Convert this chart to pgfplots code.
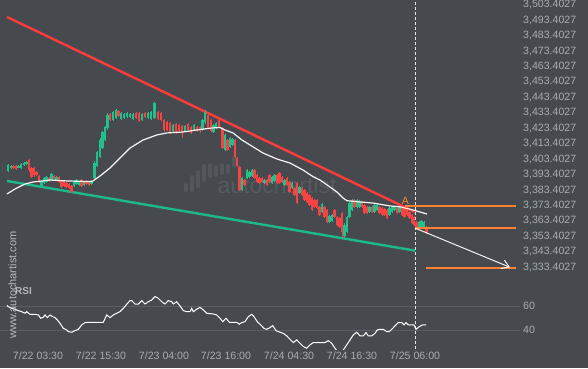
\documentclass[border=0pt]{standalone}
\usepackage{pgfplots}
\pgfplotsset{compat=1.18}
\usepackage{pgfplotstable}
\usepackage{fontspec}
\setmainfont{Liberation Sans}
\usetikzlibrary{arrows.meta}
\definecolor{bg}{HTML}{464A4F}
\definecolor{tickc}{HTML}{A8ACB1}
\definecolor{cup}{HTML}{22C08C}
\definecolor{cdn}{HTML}{F64343}
\definecolor{tred}{HTML}{FF3B3B}
\definecolor{tgreen}{HTML}{1DB98C}
\definecolor{orng}{HTML}{FF8232}
\definecolor{gridc}{HTML}{5A5E64}

\pgfplotstableread{
x o h l c
8 3395.7 3400.3 3395.1 3399.6
11 3397.7 3399.6 3397.0 3399.0
18.5 3398.3 3399.6 3397.7 3399.0
21 3397.7 3400.9 3397.0 3400.3
24 3399.6 3401.6 3399.0 3400.9
26.5 3400.3 3402.2 3399.6 3401.6
41.5 3386.0 3389.9 3385.4 3389.3
44 3388.0 3391.9 3387.3 3391.2
46.5 3388.6 3392.5 3388.0 3391.9
51.5 3389.9 3394.4 3389.3 3393.8
56.5 3389.9 3392.5 3389.3 3391.9
74 3386.0 3389.9 3385.4 3389.3
76.5 3387.3 3390.6 3386.7 3389.9
79 3386.7 3389.3 3386.0 3388.6
84 3386.7 3389.3 3386.0 3388.6
91.5 3387.3 3389.9 3386.7 3389.3
94.5 3391.2 3402.2 3390.6 3400.9
97 3399.0 3408.7 3398.3 3408.1
100 3404.8 3417.1 3404.2 3415.8
102.5 3410.6 3421.6 3410.0 3421.0
105 3415.8 3424.9 3415.2 3424.2
107.5 3423.6 3433.3 3422.3 3432.0
113 3428.8 3434.6 3428.1 3433.9
116 3430.1 3435.9 3429.4 3435.2
121 3429.4 3433.9 3428.8 3433.3
124 3430.1 3433.3 3429.4 3432.6
127 3430.7 3433.9 3430.1 3433.3
130 3430.7 3433.3 3430.1 3432.6
133 3429.4 3433.3 3428.8 3432.6
142 3428.8 3433.3 3428.1 3432.6
148 3430.1 3433.9 3429.4 3433.3
151 3429.4 3434.6 3428.8 3433.9
154.5 3430.1 3440.4 3429.4 3439.8
173 3421.6 3426.2 3421.0 3425.5
185 3421.6 3425.5 3421.0 3424.9
194 3422.3 3426.2 3421.6 3425.5
202.5 3422.3 3429.4 3421.6 3428.8
205 3427.5 3435.2 3426.2 3433.9
213.5 3421.0 3426.2 3420.4 3425.5
216 3423.6 3427.5 3422.9 3426.8
225 3409.3 3419.7 3408.7 3419.1
230 3411.3 3417.8 3410.6 3417.1
232.5 3412.6 3417.1 3411.9 3416.5
242 3383.4 3391.9 3382.8 3391.2
247 3391.2 3397.0 3390.6 3396.4
249.5 3391.9 3395.7 3391.2 3395.1
252 3392.5 3397.0 3391.9 3396.4
264.5 3388.0 3390.6 3387.3 3389.9
272 3388.0 3392.5 3387.3 3391.9
274.5 3389.3 3393.8 3388.6 3393.2
284.5 3386.7 3390.6 3386.0 3389.9
292 3384.7 3388.6 3384.1 3388.0
299.5 3381.5 3386.0 3380.9 3385.4
322 3369.2 3375.0 3368.5 3374.4
329.5 3362.7 3367.3 3362.1 3366.6
332 3363.4 3367.9 3362.7 3367.3
344.5 3353.7 3362.1 3352.4 3360.8
347 3356.3 3366.6 3355.6 3366.0
349.5 3366.0 3375.7 3365.3 3375.0
352 3370.5 3377.6 3369.8 3377.0
357 3372.4 3377.6 3371.8 3377.0
359.5 3372.4 3377.0 3371.8 3376.3
369.5 3369.2 3373.1 3368.5 3372.4
374.5 3369.2 3374.4 3368.5 3373.7
377 3370.5 3374.4 3369.8 3373.7
389.5 3367.3 3372.4 3366.6 3371.8
392 3369.2 3373.1 3368.5 3372.4
394.5 3370.5 3373.1 3369.8 3372.4
399.5 3369.2 3373.1 3368.5 3372.4
419 3359.5 3363.4 3358.8 3362.7
421.5 3359.5 3364.0 3358.8 3363.4
424 3358.8 3363.4 3358.2 3362.7
}\upcandles

\pgfplotstableread{
x o h l c
13.5 3399.0 3399.6 3397.0 3397.7
16 3399.0 3399.6 3396.4 3397.0
29 3402.9 3403.5 3395.1 3396.4
31.5 3397.7 3398.3 3391.2 3391.9
34 3397.7 3398.3 3391.9 3393.2
36.5 3395.1 3395.7 3392.5 3393.2
39 3392.5 3393.2 3388.0 3388.6
49 3391.2 3391.9 3388.6 3389.3
54 3392.5 3393.2 3389.9 3390.6
59 3391.9 3392.5 3388.0 3388.6
61.5 3389.3 3389.9 3384.7 3385.4
64 3389.3 3389.9 3385.4 3386.0
66.5 3388.0 3388.6 3384.7 3385.4
69 3387.3 3388.0 3384.1 3384.7
71.5 3386.0 3386.7 3381.5 3382.1
81.5 3389.9 3390.6 3385.4 3386.0
86.5 3389.3 3389.9 3386.7 3387.3
89 3388.6 3389.3 3386.0 3386.7
110 3432.6 3433.3 3428.1 3428.8
118.5 3434.6 3435.2 3430.7 3431.4
136 3433.3 3433.9 3429.4 3430.1
139 3433.3 3433.9 3427.5 3428.1
145 3433.3 3433.9 3430.1 3430.7
158 3433.9 3434.6 3428.8 3429.4
161 3433.3 3433.9 3428.1 3428.8
164 3428.8 3429.4 3421.0 3422.3
167 3427.5 3428.1 3421.6 3422.3
170 3426.8 3427.5 3419.7 3420.4
176 3426.2 3426.8 3419.7 3420.4
179 3425.5 3426.2 3421.0 3421.6
182 3424.9 3425.5 3417.1 3421.0
188 3426.2 3426.8 3421.6 3422.3
191 3424.2 3424.9 3419.7 3420.4
197 3424.2 3424.9 3421.0 3421.6
200 3424.2 3424.9 3420.4 3421.6
208 3432.0 3432.6 3422.9 3423.6
211 3428.8 3429.4 3421.0 3421.6
219 3428.8 3429.4 3423.6 3424.2
222.5 3423.6 3424.2 3410.0 3410.6
227.5 3415.8 3416.5 3408.7 3409.3
235 3415.8 3416.5 3404.2 3404.8
237 3404.2 3404.8 3398.3 3399.0
239.5 3398.3 3399.0 3382.8 3383.4
244.5 3389.9 3390.6 3386.0 3386.7
254.5 3396.4 3397.0 3390.6 3391.2
257 3393.2 3393.8 3388.0 3388.6
259.5 3391.2 3391.9 3387.3 3388.0
262 3391.2 3391.9 3388.0 3388.6
267 3389.9 3390.6 3386.0 3386.7
269.5 3393.2 3393.8 3388.0 3388.6
277 3393.2 3393.8 3387.3 3388.0
279.5 3394.4 3395.1 3387.3 3388.0
282 3391.9 3392.5 3388.0 3388.6
287 3391.2 3391.9 3386.0 3386.7
289.5 3388.6 3389.3 3381.5 3382.1
294.5 3384.7 3385.4 3379.6 3380.2
297 3388.0 3388.6 3374.4 3375.0
302 3384.7 3385.4 3379.6 3380.2
304.5 3383.4 3384.1 3376.3 3377.0
307 3381.5 3382.1 3375.0 3375.7
309.5 3380.2 3380.9 3373.1 3373.7
312 3378.3 3378.9 3369.8 3370.5
314.5 3377.0 3377.6 3371.8 3372.4
317 3377.0 3377.6 3371.1 3371.8
319.5 3372.4 3373.1 3366.6 3367.3
324.5 3372.4 3373.1 3365.3 3366.0
327 3370.5 3371.1 3362.1 3362.7
334.5 3370.5 3371.1 3365.3 3366.0
337 3366.0 3366.6 3360.1 3360.8
339.5 3365.3 3366.0 3358.8 3359.5
342 3368.5 3369.2 3352.4 3356.3
354.5 3377.0 3377.6 3371.8 3372.4
362 3375.7 3376.3 3371.8 3372.4
364.5 3373.7 3374.4 3367.9 3368.5
367 3372.4 3373.1 3367.9 3368.5
372 3372.4 3373.1 3368.5 3369.2
379.5 3372.4 3373.1 3367.9 3368.5
382 3371.8 3372.4 3366.6 3367.3
384.5 3371.1 3371.8 3366.6 3367.3
387 3370.5 3371.1 3364.7 3365.3
397 3371.8 3372.4 3367.9 3368.5
402 3371.8 3372.4 3366.6 3367.3
404.5 3372.4 3373.1 3365.3 3366.0
407 3371.8 3372.4 3366.6 3367.3
409.5 3369.2 3369.8 3364.7 3365.3
412 3367.3 3367.9 3361.4 3362.1
414 3366.0 3366.6 3360.1 3360.8
416.5 3362.7 3363.4 3357.5 3358.2
426.5 3359.5 3360.1 3355.0 3355.6
}\downcandles

\pgfplotstableread{
x ma
7 3380.9
15 3384.1
25 3387.3
33 3388.6
50 3389.9
67 3389.3
92 3388.9
100 3392.5
110 3397.7
120 3404.2
130 3410.6
143 3415.8
157 3419.1
167 3420.4
183 3421.0
200 3422.6
212 3423.6
220 3423.9
225 3422.3
233 3420.4
242 3415.8
250 3412.6
263 3407.4
277 3403.5
290 3400.9
303 3396.4
313 3392.1
320 3389.9
330 3385.4
337 3382.1
343 3378.3
347 3376.5
357 3375.9
373 3375.0
390 3373.1
400 3372.6
413 3370.5
427 3367.9
}\matable

\pgfplotstableread{
x rsi
7 60.5
8.3 59.4
11.7 58.1
15 57.3
18.3 56.2
21.7 55.3
25 54.0
26.7 55.3
30 53.1
35 53.1
38.3 52.6
40.7 49.9
43.3 50.7
45 52.6
47.3 50.4
50 52.6
52.7 51.2
55 50.4
57.3 48.5
60 45.8
63.3 41.6
66.7 40.3
68.3 38.9
71.7 38.4
75 39.7
78.3 40.8
81.7 44.4
85 46.3
88.3 46.6
100 46.6
103.3 46.6
106.7 52.6
110 50.4
113.3 52.6
116.7 54.0
120 55.3
123.3 58.1
126.7 61.4
130 64.4
131.7 64.4
135 61.6
138.3 61.6
141.7 64.4
145 61.6
148.3 63.5
151.7 64.9
155 67.7
158.3 66.3
161.7 63.5
165 61.6
168.3 64.4
171.7 63.5
173.3 61.6
176.7 63.5
180 60.0
183.3 56.2
186.7 55.3
190 55.3
191.7 58.1
193.3 55.3
196.7 57.3
200 58.9
203.3 56.7
206.7 54.0
213.3 53.4
216.7 52.6
220 49.9
222.7 47.1
226 49.9
229.3 46.6
236.7 46.6
239.3 45.0
241.7 46.3
245 47.1
248.3 51.2
251.7 53.1
254 51.2
257.3 47.1
260.7 44.4
264 41.6
266.7 40.8
270 42.2
272.7 43.9
276 39.7
280 38.4
283.3 37.5
286.7 35.4
290 32.6
293.3 29.9
296.7 32.1
300 29.3
303.3 26.6
306.7 25.2
310 28.0
313.3 29.9
320 29.9
325 29.9
328.3 31.5
331.7 29.3
335 25.2
338 22.0
341 21.5
343.3 23.8
346.7 28.0
350 32.1
353.3 36.2
356.7 38.4
360 35.4
363.3 35.4
366 38.1
368.3 35.4
371.7 35.4
375 37.5
377.3 40.3
380 40.8
383.3 40.8
386.7 38.9
389.3 38.9
391.7 40.8
395 43.6
398.3 46.3
401.7 46.3
404 44.4
406 46.3
408.3 44.4
414 44.4
416 40.8
419.3 43.0
422.7 44.4
426 44.4
}\rsitable

\pgfplotsset{
  candlewick/.style={draw=none, forget plot, error bars/.cd, y dir=both, y explicit, error mark=none,
     error bar style={draw=#1, line width=0.9pt, solid}},
  candlebody/.style={draw=none, forget plot, error bars/.cd, y dir=both, y explicit, error mark=none,
     error bar style={draw=#1, line width=2.2pt, solid, line cap=butt}},
  labfont/.style={font=\fontsize{10.6}{12}\selectfont, text=tickc},
}

\begin{document}
\begin{tikzpicture}
\fill[bg] (0pt,0pt) rectangle (588pt,368pt);

% price panel
\begin{axis}[
  at={(0pt,88pt)}, anchor=south west, scale only axis,
  width=520pt, height=280pt,
  xmin=0, xmax=520, ymin=3325.18, ymax=3506.45,
  axis line style={draw=none}, tick style={draw=none}, major tick length=0pt,
  xtick=\empty,
  ytick={3333.4027,3343.4027,3353.4027,3363.4027,3373.4027,3383.4027,3393.4027,3403.4027,3413.4027,3423.4027,3433.4027,3443.4027,3453.4027,3463.4027,3473.4027,3483.4027,3493.4027,3503.4027},
  yticklabels={{3,333.4027},{3,343.4027},{3,353.4027},{3,363.4027},{3,373.4027},{3,383.4027},{3,393.4027},{3,403.4027},{3,413.4027},{3,423.4027},{3,433.4027},{3,443.4027},{3,453.4027},{3,463.4027},{3,473.4027},{3,483.4027},{3,493.4027},{3,503.4027}},
  yticklabel pos=right,
  yticklabel style={labfont, anchor=west, inner sep=0pt, xshift=3pt},
]
% watermark
\node[text=white, opacity=0.09, font=\fontsize{23}{26}\selectfont] at (axis cs:277,3386.2) {autochartist};
\addplot[draw=white, opacity=0.07, line width=4pt, line cap=round, unbounded coords=jump] coordinates {
 (186,3386.7) (186,3383.4) (186,nan)
 (192,3391.9) (192,3383.4) (192,nan)
 (198,3395.1) (198,3386.0) (198,nan)
 (204,3399.0) (204,3389.9) (204,nan)
 (210,3399.6) (210,3392.5) (210,nan)
 (216,3398.3) (216,3393.2) (216,nan)
 (222,3399.6) (222,3394.4) (222,nan)
 (228,3399.0) (228,3395.1) (228,nan)
 (234,3404.2) (234,3399.0)
};
% dashed current time line
\addplot[draw=white!80!gray, line width=0.7pt, dash pattern=on 3pt off 2pt] coordinates {(415.3,3325.18) (415.3,3506.45)};
% trend lines
\addplot[tred, line width=2.4pt] coordinates {(7,3495.45) (415,3369.2)};
\addplot[tgreen, line width=2.4pt] coordinates {(7,3389.3) (415,3344.2)};
% candles
\addplot[candlewick=cup] table[x=x, y expr={(\thisrow{h}+\thisrow{l})/2}, y error expr={(\thisrow{h}-\thisrow{l})/2}] {\upcandles};
\addplot[candlebody=cup] table[x=x, y expr={(\thisrow{o}+\thisrow{c})/2}, y error expr={(\thisrow{c}-\thisrow{o})/2}] {\upcandles};
\addplot[candlewick=cdn] table[x=x, y expr={(\thisrow{h}+\thisrow{l})/2}, y error expr={(\thisrow{h}-\thisrow{l})/2}] {\downcandles};
\addplot[candlebody=cdn] table[x=x, y expr={(\thisrow{o}+\thisrow{c})/2}, y error expr={(\thisrow{o}-\thisrow{c})/2}] {\downcandles};
% moving average
\addplot[white!92!gray, line width=1.2pt] table[x=x, y=ma] {\matable};
% orange levels
\addplot[draw=orng, line width=1.6pt] coordinates {(405,3373.1) (516,3373.1)};
\addplot[draw=orng, line width=1.6pt] coordinates {(415,3358.7) (516,3358.7)};
\addplot[draw=orng, line width=1.6pt] coordinates {(426,3333.1) (516,3333.1)};
% forecast arrow
\addplot[white!90!gray, line width=1pt, -{Straight Barb[length=7pt,width=9pt]}] coordinates {(415,3358.8) (510,3333.4)};
\node[text=orng, font=\fontsize{10.5}{12}\selectfont] at (axis cs:405.3,3376.6) {A};
\end{axis}

% RSI panel
\begin{axis}[
  at={(0pt,19pt)}, anchor=south west, scale only axis,
  width=520pt, height=69pt,
  xmin=0, xmax=520, ymin=24.6, ymax=81.36,
  axis line style={draw=none}, tick style={draw=none}, major tick length=0pt,
  ytick={40,60}, yticklabels={40,60},
  yticklabel pos=right,
  yticklabel style={labfont, anchor=west, inner sep=0pt, xshift=3pt},
  ymajorgrids, grid style={gridc, line width=0.8pt},
  xtick={38,101,164,226,289,352,415},
  xticklabels={7/22 03:30,7/22 15:30,7/23 04:00,7/23 16:00,7/24 04:30,7/24 16:30,7/25 06:00},
  xticklabel style={labfont, anchor=north, inner sep=0pt, yshift=-3pt},
]
\addplot[draw=white!80!gray, line width=0.7pt, dash pattern=on 3pt off 2pt] coordinates {(415.3,24.6) (415.3,81.36)};
\addplot[white, line width=1pt] table[x=x, y=rsi] {\rsitable};
\end{axis}

\node[rotate=90, text=tickc!85!white, font=\fontsize{11}{13}\selectfont] at (12.5pt,83pt) {www.autochartist.com};
\node[anchor=west, text=tickc!90!white, font=\bfseries\fontsize{10}{12}\selectfont, inner sep=0pt] at (15pt,77pt) {RSI};

\pgfresetboundingbox
\useasboundingbox (0pt,0pt) rectangle (588pt,368pt);
\end{tikzpicture}
\end{document}
